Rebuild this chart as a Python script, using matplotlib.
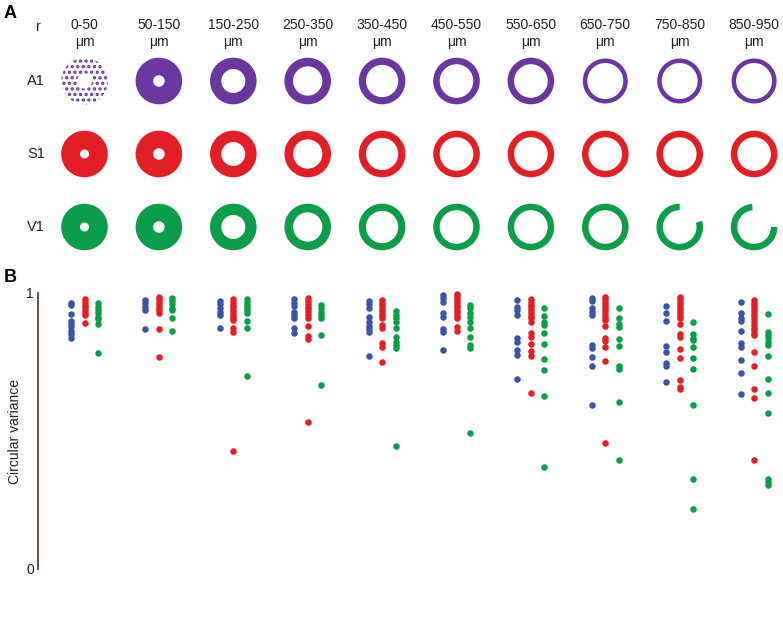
import matplotlib

matplotlib.use("Agg")

import matplotlib.pyplot as plt  # noqa: E402
from matplotlib.patches import Wedge  # noqa: E402

plt.rcParams["font.family"] = ["Liberation Sans", "DejaVu Sans"]
plt.rcParams["hatch.linewidth"] = 1.6

# ---- panel A: radial bins ----
bin_labels = ["0-50", "50-150", "150-250", "250-350", "350-450",
              "450-550", "550-650", "650-750", "750-850", "850-950"]
r_inner_um = [0, 50, 150, 250, 350, 450, 550, 650, 750, 850]
r_outer_um = [50, 150, 250, 350, 450, 550, 650, 750, 850, 950]
areas = ["A1", "S1", "V1"]
ring_colors = ["#6a36a0", "#e31e25", "#0a9e4a"]
# visible arc (deg, counter-clockwise) where V1 cells were found in far bins
partial_arcs = {("V1", 8): (90, 375), ("V1", 9): (95, 360)}
# bins with sparse cell coverage -> drawn as dot texture
sparse_bins = {("A1", 0): "..."}
# bins with thinner, patchy coverage
thin_bins = {("A1", 7), ("A1", 8), ("A1", 9)}

# ---- panel B: circular variance per bin (A1 blue, S1 red, V1 green) ----
cv_a1 = [
    [0.964, 0.957, 0.924, 0.899, 0.888, 0.877, 0.862, 0.851, 0.837],
    [0.975, 0.963, 0.951, 0.938, 0.868],
    [0.971, 0.959, 0.945, 0.930, 0.920, 0.874],
    [0.977, 0.965, 0.953, 0.932, 0.920, 0.908, 0.872, 0.854],
    [0.971, 0.959, 0.945, 0.914, 0.894, 0.882, 0.870, 0.860, 0.773],
    [0.993, 0.981, 0.967, 0.926, 0.912, 0.870, 0.858, 0.793],
    [0.975, 0.950, 0.938, 0.920, 0.836, 0.824, 0.793, 0.775, 0.687],
    [0.983, 0.971, 0.947, 0.930, 0.920, 0.812, 0.800, 0.769, 0.737, 0.594],
    [0.954, 0.929, 0.899, 0.809, 0.787, 0.745, 0.737, 0.679],
    [0.966, 0.929, 0.908, 0.900, 0.862, 0.818, 0.805, 0.757, 0.709, 0.634],
]
cv_s1 = [
    [0.978, 0.968, 0.958, 0.948, 0.938, 0.928, 0.920, 0.891],
    [0.987, 0.977, 0.967, 0.957, 0.947, 0.937, 0.926, 0.868, 0.769],
    [0.978, 0.968, 0.958, 0.948, 0.938, 0.928, 0.918, 0.908, 0.902,
     0.874, 0.860, 0.429],
    [0.981, 0.971, 0.961, 0.951, 0.941, 0.931, 0.921, 0.908, 0.882,
     0.845, 0.833, 0.534],
    [0.975, 0.965, 0.955, 0.945, 0.935, 0.925, 0.915, 0.908, 0.884,
     0.872, 0.818, 0.805, 0.751],
    [0.998, 0.988, 0.978, 0.968, 0.958, 0.948, 0.938, 0.928, 0.918,
     0.910, 0.878, 0.862],
    [0.978, 0.968, 0.958, 0.948, 0.938, 0.928, 0.918, 0.908, 0.896,
     0.854, 0.842, 0.814, 0.790, 0.773, 0.639],
    [0.987, 0.977, 0.967, 0.957, 0.947, 0.937, 0.927, 0.917, 0.907,
     0.902, 0.880, 0.836, 0.826, 0.805, 0.755, 0.457],
    [0.987, 0.977, 0.967, 0.957, 0.947, 0.937, 0.927, 0.917, 0.908,
     0.887, 0.850, 0.842, 0.796, 0.763, 0.685, 0.661, 0.652],
    [0.975, 0.965, 0.955, 0.945, 0.935, 0.925, 0.915, 0.905, 0.895,
     0.885, 0.875, 0.865, 0.855, 0.848, 0.787, 0.736, 0.652, 0.621, 0.394],
]
cv_v1 = [
    [0.963, 0.951, 0.938, 0.926, 0.914, 0.906, 0.887, 0.781],
    [0.983, 0.971, 0.959, 0.947, 0.938, 0.911, 0.864],
    [0.978, 0.968, 0.958, 0.948, 0.938, 0.926, 0.899, 0.874, 0.700],
    [0.957, 0.945, 0.932, 0.920, 0.908, 0.848, 0.665],
    [0.935, 0.920, 0.908, 0.894, 0.872, 0.839, 0.824, 0.812, 0.802, 0.446],
    [0.957, 0.945, 0.926, 0.914, 0.896, 0.872, 0.842, 0.812, 0.800, 0.492],
    [0.947, 0.918, 0.896, 0.884, 0.856, 0.815, 0.761, 0.721, 0.628, 0.370],
    [0.945, 0.908, 0.887, 0.878, 0.833, 0.809, 0.736, 0.724, 0.604, 0.394],
    [0.894, 0.850, 0.838, 0.830, 0.803, 0.765, 0.725, 0.594, 0.326, 0.217],
    [0.923, 0.860, 0.848, 0.836, 0.824, 0.812, 0.773, 0.688, 0.637, 0.564,
     0.326, 0.316, 0.304],
]
dot_colors = ["#3a55a5", "#e31e25", "#0a9e4a"]

# layout (pixels on a 783x633 canvas)
W, H = 783, 633
X0, DX = 84.5, 74.4          # centre of first column, column spacing
ROW_Y = [81, 154, 227]
R_OUT = 23.3
B_TOP, B_BOT, B_LEFT = 293, 569, 38
OFFSET = 13.5 / DX

fig = plt.figure(figsize=(W / 100, H / 100), dpi=100)

# ---------- panel B ----------
axB = fig.add_axes([B_LEFT / W, (H - B_BOT) / H, (W - B_LEFT) / W,
                    (B_BOT - B_TOP) / H])
for i in range(len(bin_labels)):
    for k, series in enumerate([cv_a1, cv_s1, cv_v1]):
        vals = series[i]
        axB.plot([i + (k - 1) * OFFSET] * len(vals), vals, "o",
                 color=dot_colors[k], ms=4.7, mec="none", clip_on=False)
axB.set_xlim((B_LEFT - X0) / DX, (W - X0) / DX)
axB.set_ylim(0, 1)
for s in ["top", "right", "bottom"]:
    axB.spines[s].set_visible(False)
axB.spines["left"].set_color("#5a3020")
axB.spines["left"].set_linewidth(1.2)
axB.set_xticks([])
axB.set_yticks([0, 1])
axB.set_yticklabels(["0", "1"])
axB.tick_params(axis="y", length=0, pad=3, labelsize=10, labelcolor="#222222")
axB.set_ylabel("Circular variance", fontsize=10, labelpad=3, color="#222222")
axB.patch.set_visible(False)

# ---------- panel A ----------
axA = fig.add_axes([0, 0, 1, 1])
axA.set_xlim(0, W)
axA.set_ylim(H, 0)
axA.axis("off")

axA.text(4, 18.5, "A", fontsize=13, fontweight="bold", va="baseline")
axA.text(4, 282, "B", fontsize=13, fontweight="bold", va="baseline")
axA.text(38, 27, "r", fontsize=10, ha="center", va="center", color="#222222")

for i, lab in enumerate(bin_labels):
    cx = X0 + DX * i
    axA.text(cx, 25, lab, fontsize=10, ha="center", va="center", color="#222222")
    axA.text(cx, 42, "\u03bcm", fontsize=10, ha="center", va="center",
             color="#222222")

for j, area in enumerate(areas):
    cy = ROW_Y[j]
    axA.text(36, cy, area, fontsize=10.5, ha="center", va="center",
             color="#222222")
    for i in range(len(bin_labels)):
        cx = X0 + DX * i
        r_in = R_OUT * r_inner_um[i] / r_outer_um[i] - 2
        r_in = min(max(r_in, 4.5), R_OUT - 6.5)
        r_out = R_OUT
        if (area, i) in thin_bins:
            r_out = R_OUT - 0.8
            r_in = r_out - 4.5
        t1, t2 = partial_arcs.get((area, i), (0, 360))
        # y axis is inverted, so mirror the angles
        hatch = sparse_bins.get((area, i))
        if hatch:
            w = Wedge((cx, cy), r_out, -t2, -t1, width=r_out - r_in - 3,
                      facecolor="none", edgecolor=ring_colors[j],
                      hatch=hatch, lw=0)
        else:
            w = Wedge((cx, cy), r_out, -t2, -t1, width=r_out - r_in,
                      facecolor=ring_colors[j], edgecolor="none")
        axA.add_patch(w)

fig.savefig("out.png", dpi=100)
